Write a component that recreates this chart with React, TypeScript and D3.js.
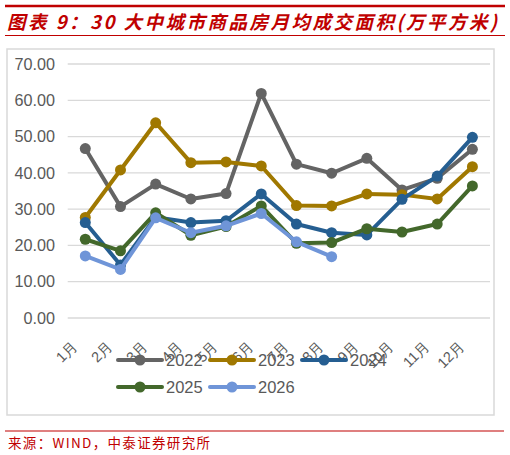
import React from "react";
import * as d3 from "d3";

const months = ["1月","2月","3月","4月","5月","6月","7月","8月","9月","10月","11月","12月"];
const yTicks = [0, 10, 20, 30, 40, 50, 60, 70];
const s2022 = [46.7, 30.7, 36.9, 32.8, 34.3, 61.9, 42.4, 39.9, 44.0, 35.3, 38.5, 46.5];
const s2023 = [27.7, 40.8, 53.8, 42.8, 43.0, 41.9, 31.0, 30.9, 34.2, 34.0, 32.8, 41.7];
const s2024 = [26.3, 14.6, 27.8, 26.3, 26.8, 34.2, 25.9, 23.5, 22.9, 32.7, 39.1, 49.8];
const s2025 = [21.7, 18.5, 29.0, 22.8, 25.2, 30.9, 20.6, 20.8, 24.6, 23.7, 25.9, 36.4];
const s2026 = [17.1, 13.4, 27.6, 23.5, 25.4, 28.8, 21.0, 16.9];
const seriesNames = ["2022", "2023", "2024", "2025", "2026"];
const seriesColors = ["#646464", "#a07800", "#255e91", "#43682b", "#6f95d8"];
const seriesData = [s2022, s2023, s2024, s2025, s2026];

const W = 510, H = 455;
const plotL = 67.7, plotR = 490, yTop = 64, yBot = 318;

export default function App() {
  const x = d3.scaleBand<string>().domain(months).range([plotL, plotR]);
  const y = d3.scaleLinear().domain([0, 70]).range([yBot, yTop]);
  const cx = (m: string) => (x(m) as number) + x.bandwidth() / 2;
  const line = d3.line<number>().x((_, i) => cx(months[i])).y((d) => y(d));
  const red = "#c00000";
  const gray = "#595959";
  const font = "Liberation Sans, Arial, sans-serif";
  const legendPos = [
    [118, 360], [210, 360], [302, 360], [118, 387], [210, 387],
  ];
  return (
    <svg width={W} height={H} style={{ position: "absolute", left: 0, top: 0, background: "#fff" }}>
      <rect x={0} y={0} width={W} height={H} fill="#fff" />
      <line x1={5} x2={505} y1={6} y2={6} stroke={red} strokeWidth={2.5} />
      <text x={7} y={29} fill={red} fontSize={18.5} fontWeight="bold" fontStyle="italic"
        textLength={490} lengthAdjust="spacing"
        fontFamily="'Noto Sans CJK SC', sans-serif">图表 9：30 大中城市商品房月均成交面积(万平方米)</text>
      <line x1={5} x2={505} y1={35.5} y2={35.5} stroke={red} strokeWidth={1} />
      <rect x={7} y={49} width={487} height={366} fill="none" stroke="#d9d9d9" strokeWidth={1.5} />
      {yTicks.map((t) => (
        <g key={t}>
          <line x1={plotL} x2={plotR} y1={y(t)} y2={y(t)} stroke="#d9d9d9" strokeWidth={1.3} />
          <text x={55} y={y(t)} dy="0.35em" textAnchor="end" fill={gray} fontSize={16.2} fontFamily={font}>
            {t.toFixed(2)}
          </text>
        </g>
      ))}
      {months.map((m) => (
        <text key={m} transform={`translate(${cx(m) - 7},${347}) rotate(-45)`} textAnchor="end"
          fill={gray} fontSize={14.5} fontFamily={font}>{m}</text>
      ))}
      {seriesData.map((d, si) => (
        <g key={si}>
          <path d={line(d) || ""} fill="none" stroke={seriesColors[si]} strokeWidth={4} strokeLinejoin="round" />
          {d.map((v, i) => (
            <circle key={i} cx={cx(months[i])} cy={y(v)} r={5.5} fill={seriesColors[si]} />
          ))}
        </g>
      ))}
      {seriesNames.map((n, i) => {
        const [lx, ly] = legendPos[i];
        return (
          <g key={n}>
            <line x1={lx} x2={lx + 44} y1={ly} y2={ly} stroke={seriesColors[i]} strokeWidth={4} strokeLinecap="round" />
            <circle cx={lx + 22} cy={ly} r={5.5} fill={seriesColors[i]} />
            <text x={lx + 48} y={ly} dy="0.35em" fill={gray} fontSize={16.5} fontFamily={font}>{n}</text>
          </g>
        );
      })}
      <line x1={5} x2={504} y1={431} y2={431} stroke={red} strokeWidth={1.2} />
      <text x={8} y={448} fill={red} fontSize={13.5} textLength={202} lengthAdjust="spacing"
        fontFamily="'Noto Sans CJK SC', sans-serif">来源：WIND，中泰证券研究所</text>
    </svg>
  );
}
